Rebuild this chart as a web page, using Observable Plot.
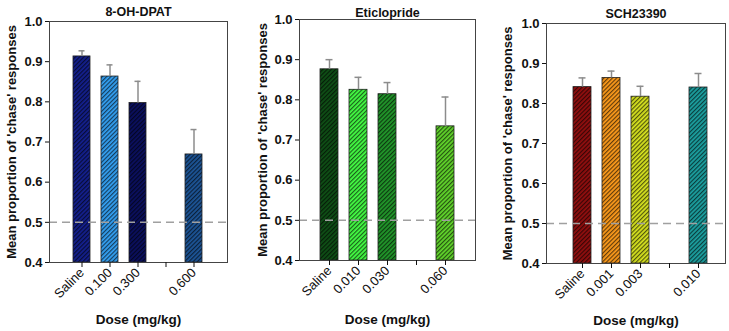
<!DOCTYPE html>
<html><head><meta charset="utf-8">
<script src="https://cdn.jsdelivr.net/npm/d3@7"></script>
<script src="https://cdn.jsdelivr.net/npm/@observablehq/plot@0.6"></script>
<style>
body{margin:0;background:#fff;}
#wrap{position:relative;width:729px;height:331px;overflow:hidden;}
#wrap svg.panel{position:absolute;top:0;}
#wrap svg text{font-family:'Liberation Sans', Arial, Helvetica, sans-serif;font-variant-numeric:normal;}
</style>
</head><body>
<svg width="0" height="0" style="position:absolute">
  <defs>
    <pattern id="hatch" patternUnits="userSpaceOnUse" width="3" height="3" patternTransform="rotate(45)">
      <rect x="0" y="0" width="1.2" height="3" fill="#000" fill-opacity="0.62"></rect>
    </pattern>
  </defs>
</svg>
<div id="wrap"></div>
<script>
// ---- data ----
const yTicks = [0.4, 0.5, 0.6, 0.7, 0.8, 0.9, 1.0];
const yLabel = "Mean proportion of 'chase' responses";
const xLabel = "Dose (mg/kg)";

const title1 = "8-OH-DPAT";
const slots1 = ["Saline", "0.100", "0.300", "gap", "0.600"];
const doses1 = ["Saline", "0.100", "0.300", "0.600"];
const means1 = [0.913, 0.863, 0.797, 0.669];
const upper1 = [0.927, 0.892, 0.851, 0.731];
const colors1 = ["#14208f", "#35a2f5", "#0b1060", "#1d5699"];

const title2 = "Eticlopride";
const slots2 = ["Saline", "0.010", "0.030", "gap", "0.060"];
const doses2 = ["Saline", "0.010", "0.030", "0.060"];
const means2 = [0.876, 0.825, 0.814, 0.734];
const upper2 = [0.900, 0.856, 0.843, 0.807];
const colors2 = ["#0f5016", "#45ff45", "#22992b", "#62d82c"];

const title3 = "SCH23390";
const slots3 = ["Saline", "0.001", "0.003", "gap", "0.010"];
const doses3 = ["Saline", "0.001", "0.003", "0.010"];
const means3 = [0.841, 0.864, 0.817, 0.840];
const upper3 = [0.864, 0.881, 0.843, 0.875];
const colors3 = ["#930f0f", "#ff9c1c", "#d9e520", "#1ca2a2"];

// ---- layout per panel ----
const panels = [
  {title: title1, slots: slots1, doses: doses1, means: means1, upper: upper1, colors: colors1,
   left: 0, ml: 49, mr: 16, mt: 21, mb: 69, po: 0.76, align: 0.5, titleDy: -14.5, doseDy: 61, labelOffset: 43},
  {title: title2, slots: slots2, doses: doses2, means: means2, upper: upper2, colors: colors2,
   left: 243, ml: 56, mr: 11, mt: 19, mb: 71, po: 0.70, align: 0.5, titleDy: -11.5, doseDy: 63, labelOffset: 42},
  {title: title3, slots: slots3, doses: doses3, means: means3, upper: upper3, colors: colors3,
   left: 486, ml: 60, mr: 4, mt: 23, mb: 68, po: 0.72, align: 0.6, titleDy: -14, doseDy: 61, labelOffset: 44}
];

const font = "'Liberation Sans', Arial, Helvetica, sans-serif";
const wrap = document.getElementById("wrap");

for (const p of panels) {
  const rows = p.doses.map((d, i) => ({dose: d, mean: p.means[i], upper: p.upper[i], color: p.colors[i]}));
  const svg = Plot.plot({
    width: 243,
    height: 331,
    marginLeft: p.ml,
    marginRight: p.mr,
    marginTop: p.mt,
    marginBottom: p.mb,
    style: {fontFamily: font, background: "transparent", overflow: "visible", color: "#111"},
    x: {type: "band", domain: p.slots, paddingInner: 0.38, paddingOuter: p.po, align: p.align},
    y: {domain: [0.4, 1.0]},
    color: {type: "identity"},
    marks: [
      Plot.barY(rows, {x: "dose", y1: 0.4, y2: "mean", fill: "color"}),
      Plot.barY(rows, {x: "dose", y1: 0.4, y2: "mean", fill: "url(#hatch)", stroke: "#222", strokeWidth: 0.8}),
      Plot.ruleX(rows, {x: "dose", y1: "mean", y2: "upper", stroke: "#8c8c8c", strokeWidth: 1.5}),
      Plot.tickY(rows, {x: "dose", y: "upper", stroke: "#8c8c8c", strokeWidth: 1.5, insetLeft: 5.5, insetRight: 5.5}),
      Plot.ruleY([0.5], {stroke: "#a0a0a0", strokeWidth: 1.5, strokeDasharray: "8,5"}),
      Plot.frame({stroke: "#444", strokeWidth: 1}),
      Plot.axisY({ticks: yTicks, tickFormat: d3.format(".1f"), tickSize: 4, tickPadding: 3,
        fontSize: 13, fontWeight: "bold", label: yLabel, labelAnchor: "center", labelArrow: "none",
        labelOffset: p.labelOffset}),
      Plot.axisX({tickRotate: -45, tickSize: 5, tickPadding: 3, fontSize: 13,
        tickFormat: d => d === "gap" ? "" : d, label: null}),
      Plot.text([p.title], {frameAnchor: "top", dy: p.titleDy, text: d => d, fontWeight: "bold", fontSize: 12.5, fill: "#111"}),
      Plot.text([xLabel], {frameAnchor: "bottom", dy: p.doseDy, text: d => d, fontWeight: "bold", fontSize: 13.5, fill: "#111"})
    ]
  });
  svg.classList.add("panel");
  svg.style.left = p.left + "px";
  wrap.appendChild(svg);
}
</script>
</body></html>
